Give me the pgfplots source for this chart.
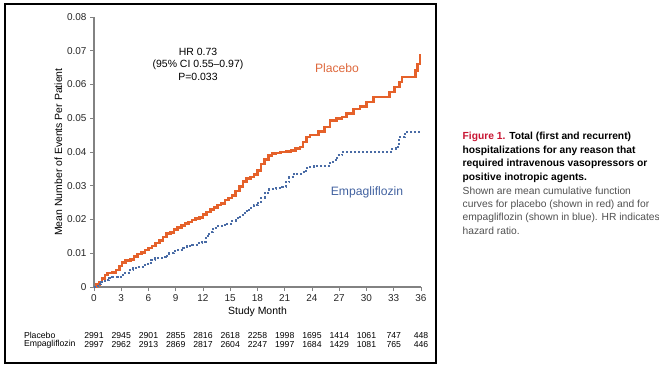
\documentclass[border=0pt]{standalone}
\usepackage{fontspec}
\setmainfont{Liberation Sans}
\usepackage{pgfplots}
\pgfplotsset{compat=1.18}
\definecolor{plcred}{RGB}{229,97,42}
\definecolor{plclab}{RGB}{222,104,60}
\definecolor{empblue}{RGB}{74,108,166}
\definecolor{emplab}{RGB}{66,98,160}
\definecolor{axgray}{RGB}{130,130,130}
\definecolor{capred}{RGB}{200,20,50}
\definecolor{capgray}{RGB}{80,80,80}
\begin{document}
\begin{tikzpicture}
\useasboundingbox (0,0) rectangle (659bp,-369bp);
\draw[black,line width=1.1bp] (5bp,-4bp) rectangle (436bp,-363bp);
\begin{axis}[
  at={(94bp,-287bp)}, anchor=south west,
  scale only axis, width=327bp, height=270bp,
  xmin=0, xmax=36, ymin=0, ymax=0.08,
  axis x line*=bottom, axis y line*=left,
  axis line style={axgray, line width=1.2bp},
  xtick={0,3,...,36},
  ytick={0,0.01,...,0.08},
  yticklabels={0,0.01,0.02,0.03,0.04,0.05,0.06,0.07,0.08},
  scaled y ticks=false,
  tick align=outside,
  major tick length=4bp,
  tick style={axgray, line width=0.8bp},
  ticklabel style={font=\fontsize{10}{12}\selectfont, text=black!85},
  /pgf/number format/assume math mode=true,
  xlabel={Study Month},
  ylabel={Mean Number of Events Per Patient},
  xlabel style={font=\fontsize{10.5}{12}\selectfont, yshift=1bp},
  ylabel style={font=\fontsize{10.5}{12}\selectfont, yshift=-2bp},
  clip=false,
]
\addplot[const plot, color=plcred, line width=2.6bp] coordinates {
(0,0) (0.3,0.0008) (0.6,0.0015) (0.9,0.0025) (1.2,0.0035) (1.5,0.0041) (2.0,0.0043)
(2.4,0.0050) (2.8,0.0062) (3.1,0.0072) (3.5,0.0078) (4.0,0.0082) (4.4,0.0090)
(4.8,0.0098) (5.2,0.0103) (5.6,0.0110) (6.0,0.0115) (6.4,0.0122) (6.8,0.0130)
(7.2,0.0138) (7.6,0.0148) (8.0,0.0158) (8.4,0.0162) (8.8,0.0170) (9.2,0.0176)
(9.6,0.0182) (10.0,0.0188) (10.4,0.0193) (10.8,0.0198) (11.2,0.0203) (11.6,0.0206)
(12.0,0.0215) (12.4,0.0222) (12.8,0.0230) (13.2,0.0236) (13.6,0.0243) (14.0,0.0248)
(14.4,0.0258) (14.8,0.0264) (15.2,0.0272) (15.6,0.0285) (16.0,0.0298) (16.4,0.0312)
(16.8,0.0322) (17.2,0.0326) (17.6,0.0334) (18.0,0.0346) (18.4,0.0365) (18.8,0.0378)
(19.2,0.0390) (19.6,0.0395) (20.0,0.0397) (20.5,0.0400) (21.2,0.0402) (21.7,0.0405)
(22.2,0.0410) (22.7,0.0415) (23.0,0.0430) (23.4,0.0444) (23.8,0.0450) (24.7,0.0460)
(25.4,0.0474) (26.0,0.0494) (26.7,0.0499) (27.3,0.0504) (27.8,0.0514) (28.6,0.0528)
(29.3,0.0534) (30.0,0.0548) (30.8,0.0563) (32.5,0.0578) (33.1,0.0593) (33.6,0.0607)
(33.9,0.0622) (35.4,0.0641) (35.6,0.0661) (35.9,0.0686) (36,0.0686)
};
\addplot[const plot, color=empblue, line width=2.0bp, dotted] coordinates {
(0,0) (0.4,0.0008) (0.8,0.0015) (1.2,0.0022) (1.6,0.0028) (2.0,0.0030) (2.6,0.0030)
(3.0,0.0036) (3.4,0.0042) (3.8,0.0050) (4.3,0.0055) (4.8,0.0060) (5.4,0.0065)
(5.9,0.0072) (6.3,0.0080) (6.7,0.0085) (7.5,0.0088) (7.9,0.0093) (8.3,0.0100)
(8.8,0.0106) (9.2,0.0110) (9.8,0.0115) (10.2,0.0121) (10.8,0.0125) (11.4,0.0130)
(11.9,0.0134) (12.3,0.0150) (12.7,0.0162) (13.1,0.0175) (13.6,0.0180) (14.1,0.0183)
(14.6,0.0188) (15.1,0.0196) (15.6,0.0203) (16.1,0.0213) (16.6,0.0225) (17.1,0.0235)
(17.6,0.0242) (18.0,0.0250) (18.4,0.0265) (18.8,0.0280) (19.3,0.0290) (20.0,0.0293)
(20.7,0.0296) (21.1,0.0310) (21.5,0.0325) (22.0,0.0336) (23.1,0.0345) (23.5,0.0356)
(24.2,0.0360) (25.9,0.0367) (26.3,0.0375) (26.8,0.0390) (27.3,0.0400) (32.7,0.0408)
(33.2,0.0415) (33.6,0.0444) (34.2,0.0459) (36,0.0459)
};
\end{axis}
% annotations
\node[align=center, font=\fontsize{10.5}{12.2}\selectfont] at (198bp,-64.3bp) {HR 0.73\\(95\% CI 0.55–0.97)\\P=0.033};
\node[font=\fontsize{12.2}{14}\selectfont, text=plclab] at (337bp,-68.5bp) {Placebo};
\node[font=\fontsize{12.2}{14}\selectfont, text=emplab] at (367bp,-192.3bp) {Empagliflozin};
% number at risk
\node[anchor=west, font=\fontsize{8.7}{10}\selectfont] at (20.5bp,-335.7bp) {Placebo};
\node[anchor=west, font=\fontsize{8.7}{10}\selectfont] at (20.5bp,-344.5bp) {Empagliflozin};
\foreach \m/\a/\b in {0/2991/2997,3/2945/2962,6/2901/2913,9/2855/2869,12/2816/2817,15/2618/2604,18/2258/2247,21/1998/1997,24/1695/1684,27/1414/1429,30/1061/1081,33/747/765,36/448/446}{
  \node[font=\fontsize{8.7}{10}\selectfont] at ({(94+\m*9.083)*1bp},-335.7bp) {\a};
  \node[font=\fontsize{8.7}{10}\selectfont] at ({(94+\m*9.083)*1bp},-344.5bp) {\b};
}
% caption
\begin{scope}[every node/.style={anchor=west, inner sep=0pt, font=\fontsize{10.3}{12}\selectfont}]
\node at (462.5bp,-136.7bp) {\textbf{\textcolor{capred}{Figure 1.} Total (first and recurrent)}};
\node at (462.5bp,-150.4bp) {\textbf{hospitalizations for any reason that}};
\node at (462.5bp,-164bp) {\textbf{required intravenous vasopressors or}};
\node at (462.5bp,-177.4bp) {\textbf{positive inotropic agents.}};
\node[text=capgray] at (462.5bp,-190.8bp) {Shown are mean cumulative function};
\node[text=capgray] at (462.5bp,-204.8bp) {curves for placebo (shown in red) and for};
\node[text=capgray] at (462.5bp,-218.3bp) {empagliflozin (shown in blue). HR indicates};
\node[text=capgray] at (462.5bp,-231.3bp) {hazard ratio.};
\end{scope}
\end{tikzpicture}
\end{document}
